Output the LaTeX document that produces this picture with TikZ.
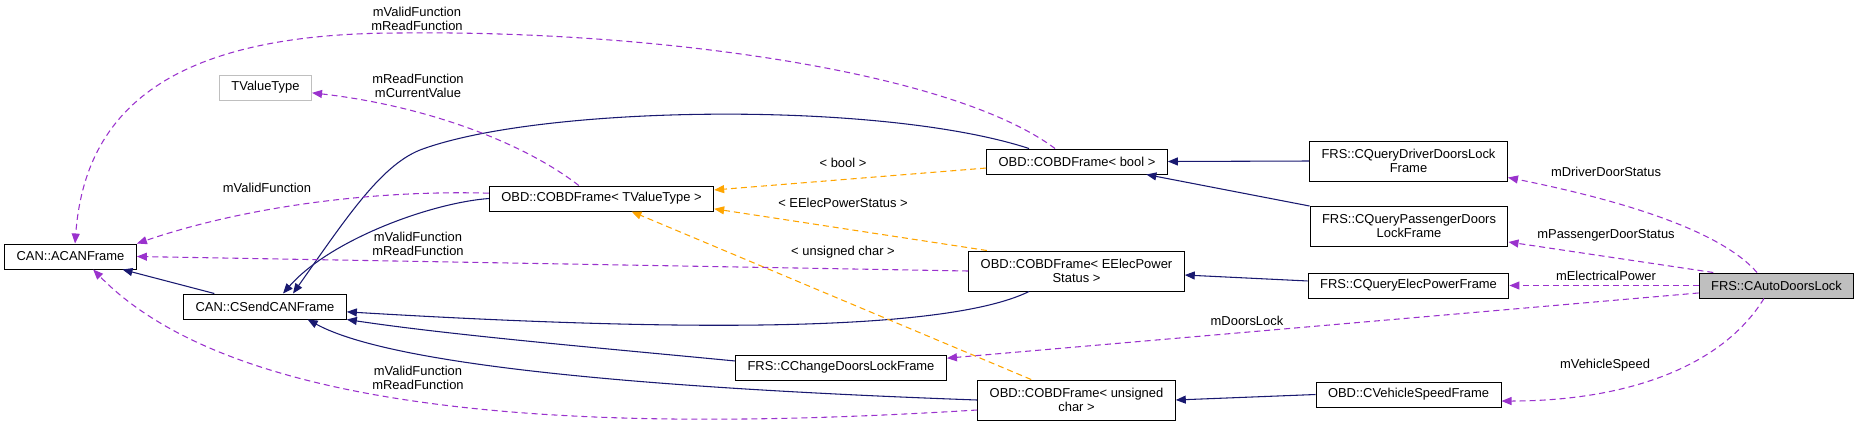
\documentclass[tikz,border=0pt]{standalone}
\usepackage{fontspec}
\setmainfont{Liberation Sans}
\usepackage{xcolor}
\usetikzlibrary{arrows.meta}

\definecolor{edgenavy}{RGB}{25,25,112}
\definecolor{edgeorange}{RGB}{255,165,0}
\definecolor{edgepurple}{RGB}{154,50,205}
\definecolor{boxgrey}{RGB}{191,191,191}

\begin{document}
\begin{tikzpicture}[
    x=0.75pt, y=-0.75pt,
    font=\fontsize{9.7pt}{10.5pt}\selectfont,
    cls/.style={
        draw=black,
        line width=0.75pt,
        fill=white,
        align=center,
        inner xsep=9pt,
        inner ysep=2pt,
        minimum height=18.75pt
    },
    cls2/.style={cls, minimum height=30pt},
    inh/.style={draw=edgenavy, line width=0.8pt, -{Triangle[length=7.5pt, width=6pt]}},
    tpl/.style={draw=edgeorange, line width=0.8pt, dash pattern=on 4.5pt off 3pt, -{Triangle[length=7.5pt, width=6pt]}},
    usage/.style={draw=edgepurple, line width=0.8pt, dash pattern=on 4.5pt off 3pt, -{Triangle[length=7.5pt, width=6pt]}},
    lbl/.style={align=center, inner sep=0pt}
]

\useasboundingbox (0, 0) rectangle (1859, 426);

\node[cls]  (acan)       at (70.5,   256.5) {CAN::ACANFrame};
\node[cls]  (csend)      at (265,    306.5) {CAN::CSendCANFrame};
\node[cls, draw=boxgrey] (tvalue) at (265.5, 87.5) {TValueType};
\node[cls]  (tvtframe)   at (601.5,  198.5) {OBD::COBDFrame< TValueType >};
\node[cls]  (boolframe)  at (1077,   161.5) {OBD::COBDFrame< bool >};
\node[cls2] (elecframe)  at (1076.5, 271)   {OBD::COBDFrame< EElecPower \\ Status >};
\node[cls2] (ucharframe) at (1076.5, 400)   {OBD::COBDFrame< unsigned \\ char >};
\node[cls]  (changelock) at (841,    367.5) {FRS::CChangeDoorsLockFrame};
\node[cls2] (qdriver)    at (1408.5, 161)   {FRS::CQueryDriverDoorsLock \\ Frame};
\node[cls2] (qpassenger) at (1409,   226.5) {FRS::CQueryPassengerDoors \\ LockFrame};
\node[cls]  (qelec)      at (1408.5, 285.5) {FRS::CQueryElecPowerFrame};
\node[cls, fill=boxgrey] (autolock) at (1776.5, 285.5) {FRS::CAutoDoorsLock};
\node[cls]  (vspeed)     at (1408.5, 394.5) {OBD::CVehicleSpeedFrame};

\draw[inh] ([xshift=-38pt]csend.north) -- ([xshift=39pt]acan.south);
\draw[inh] ([xshift=-36pt]boolframe.north) .. controls (880, 100) and (540, 105) .. (420, 150)
           .. controls (380, 166) and (345, 220) .. ([xshift=21pt]csend.north);
\draw[inh] (tvtframe.west) .. controls (430, 203) and (330, 240) .. ([xshift=13.5pt]csend.north);
\draw[inh] ([xshift=-35.6pt]elecframe.south) .. controls (940, 335) and (650, 330) .. ([yshift=-4pt]csend.east);
\draw[inh] ([yshift=4.9pt]changelock.west) .. controls (600, 348) and (450, 335) .. (csend.south east);
\draw[inh] (ucharframe.west) .. controls (700, 390) and (400, 370) .. ([xshift=32pt]csend.south);
\draw[inh] (qdriver.west) -- (boolframe.east);
\draw[inh] (qpassenger.north west) -- ([xshift=52pt]boolframe.south);
\draw[inh] ([yshift=3.4pt]qelec.west) -- ([yshift=-3pt]elecframe.east);
\draw[inh] (vspeed.west) -- (ucharframe.east);

\draw[tpl] ([yshift=-4.9pt]boolframe.west) -- ([yshift=6.4pt]tvtframe.east);
\draw[tpl] ([xshift=14pt]elecframe.north west) -- ([yshift=2pt]tvtframe.south east);
\draw[tpl] ([xshift=-34pt]ucharframe.north) -- ([xshift=22.5pt]tvtframe.south);

\draw[usage] ([xshift=-16.5pt]boolframe.north) .. controls (950, 70) and (650, 30) .. (400, 33)
             .. controls (170, 33) and (85, 110) .. ([xshift=3.4pt]acan.north);
\draw[usage] ([xshift=-17pt]tvtframe.north) .. controls (520, 140) and (420, 105) .. ([yshift=-4pt]tvalue.east);
\draw[usage] ([yshift=4pt]tvtframe.west) .. controls (380, 190) and (250, 205) .. (acan.north east);
\draw[usage] (elecframe.west) -- (acan.east);
\draw[usage] ([yshift=-7.5pt]ucharframe.west) .. controls (650, 430) and (250, 430) .. ([xshift=17pt]acan.south);
\draw[usage] ([xshift=-14.6pt]autolock.north) .. controls (1720, 230) and (1620, 200) .. ([yshift=3pt]qdriver.south east);
\draw[usage] ([xshift=11pt]autolock.north west) -- ([yshift=3.75pt]qpassenger.south east);
\draw[usage] (autolock.west) -- (qelec.east);
\draw[usage] ([yshift=-5.6pt]autolock.west) -- ([yshift=7pt]changelock.east);
\draw[usage] ([xshift=-9.4pt]autolock.south) .. controls (1720, 370) and (1620, 401) .. ([yshift=-4.9pt]vspeed.east);

\node[lbl] (lvalidtop)  at (417, 19)   {mValidFunction \\ mReadFunction};
\node[lbl] (lcurrent)   at (418, 86)   {mReadFunction \\ mCurrentValue};
\node[lbl] (lvalid)     at (267, 188)  {mValidFunction};
\node[lbl] (lvalidmid)  at (418, 244)  {mValidFunction \\ mReadFunction};
\node[lbl] (lvalidlow)  at (418, 378)  {mValidFunction \\ mReadFunction};
\node[lbl] (lbool)      at (843, 163)  {< bool >};
\node[lbl] (lelec)      at (843, 203)  {< EElecPowerStatus >};
\node[lbl] (luchar)     at (843, 252)  {< unsigned char >};
\node[lbl] (ldriver)    at (1606, 172) {mDriverDoorStatus};
\node[lbl] (lpassenger) at (1606, 235) {mPassengerDoorStatus};
\node[lbl] (lpower)     at (1606, 276) {mElectricalPower};
\node[lbl] (ldoors)     at (1247, 321) {mDoorsLock};
\node[lbl] (lspeed)     at (1605, 365) {mVehicleSpeed};

\end{tikzpicture}
\end{document}
